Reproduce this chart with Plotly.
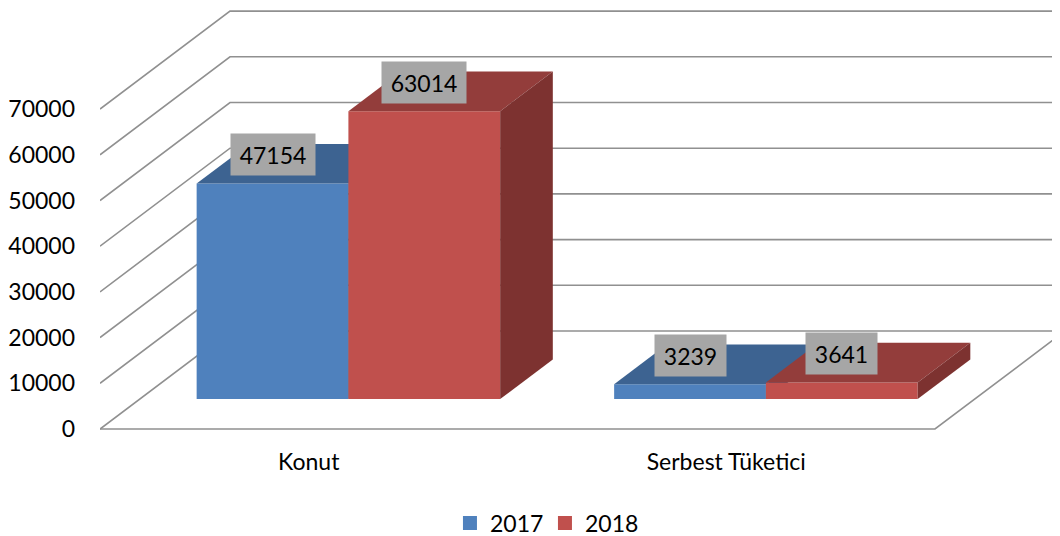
import plotly.graph_objects as go

# ---------------- data ----------------
categories = ["Konut", "Serbest Tüketici"]
series_names = ["2017", "2018"]
values_2017 = [47154, 3239]
values_2018 = [63014, 3641]
y_tick_values = [0, 10000, 20000, 30000, 40000, 50000, 60000, 70000]

# ---------------- style / geometry ----------------
FONT = "Lato, 'Open Sans', 'DejaVu Sans', sans-serif"
FONT_SIZE = 23
front_colors = ["#4F81BD", "#C0504D"]
top_colors = ["#3D6391", "#933D3B"]
side_colors = ["#34547C", "#7D3230"]
GRID_COLOR = "#909090"

# page body has an 8px margin: figure starts at (8, 8) in the window
W, H = 1052, 528
M_L, M_R, M_T, M_B = 92, 0, 0, 96
SLOT_PX = 417.5            # px per category slot
PX_PER_VAL = 0.00457       # px per value unit
FLOOR_PX_Y = 421           # px position of value 0 at the front (from plot top)
DEPTH_X = 130 / SLOT_PX    # full floor depth, x units
DEPTH_Y = 98 / PX_PER_VAL  # full floor depth, value units
F0, F1 = 0.305, 0.71       # bar depth (fraction of floor depth)
BAR_W = 0.3635             # bar width, slot units
LABEL_CHAR_PX = 13         # label box width per character
LABEL_EXTRA_PX = 9

x_range = [-0.5, -0.5 + (W - M_L - M_R) / SLOT_PX]
plot_h = H - M_T - M_B
y_range = [-(plot_h - FLOOR_PX_Y) / PX_PER_VAL, FLOOR_PX_Y / PX_PER_VAL]

fig = go.Figure()

# ---------------- gridlines / floor ----------------
far_x = x_range[1] + 1
for v in y_tick_values:
    fig.add_trace(go.Scatter(
        x=[-0.5, -0.5 + DEPTH_X, far_x],
        y=[v, v + DEPTH_Y, v + DEPTH_Y],
        mode="lines", line=dict(color=GRID_COLOR, width=1.6),
        hoverinfo="skip", showlegend=False))
n_cat = len(categories)
fig.add_trace(go.Scatter(
    x=[-0.5, n_cat - 0.5, n_cat - 0.5 + DEPTH_X],
    y=[0, 0, DEPTH_Y],
    mode="lines", line=dict(color=GRID_COLOR, width=1.6),
    hoverinfo="skip", showlegend=False))

# ---------------- 3D bars ----------------
series_values = [values_2017, values_2018]
annotations = []
base = F0 * DEPTH_Y
shift_x = F0 * DEPTH_X
dx = (F1 - F0) * DEPTH_X
dy = (F1 - F0) * DEPTH_Y
for ci, cat in enumerate(categories):
    for si, vals in enumerate(series_values):
        v = vals[ci]
        x0 = ci - BAR_W + si * BAR_W + shift_x
        x1 = x0 + BAR_W
        b = base
        t = base + v
        faces = [
            ([x0, x1, x1, x0, x0], [b, b, t, t, b], front_colors[si]),
            ([x0, x1, x1 + dx, x0 + dx, x0], [t, t, t + dy, t + dy, t], top_colors[si]),
            ([x1, x1 + dx, x1 + dx, x1, x1], [b, b + dy, t + dy, t, b], side_colors[si]),
        ]
        for fx, fy, col in faces:
            fig.add_trace(go.Scatter(
                x=fx, y=fy, mode="lines", fill="toself", fillcolor=col,
                line=dict(width=0, color=col), hoverinfo="skip", showlegend=False))
        label = str(v)
        annotations.append(dict(
            x=(x0 + x1) / 2, y=t, xref="x", yref="y",
            text=label, showarrow=False, yshift=29,
            font=dict(family=FONT, size=FONT_SIZE, color="#000000"),
            bgcolor="#A6A6A6", borderpad=5,
            width=LABEL_CHAR_PX * len(label) + LABEL_EXTRA_PX, height=31,
            xanchor="center", yanchor="middle"))

# ---------------- legend entries ----------------
for si, name in enumerate(series_names):
    fig.add_trace(go.Scatter(
        x=[None], y=[None], mode="markers", name=name,
        marker=dict(symbol="square", size=14, color=front_colors[si])))

fig.update_layout(
    width=W, height=H,
    margin=dict(l=M_L, r=M_R, t=M_T, b=M_B, autoexpand=False),
    paper_bgcolor="white", plot_bgcolor="white",
    font=dict(family=FONT, size=FONT_SIZE, color="#000000"),
    xaxis=dict(range=x_range, showgrid=False, zeroline=False, showline=False,
               tickmode="array", tickvals=list(range(n_cat)), ticktext=categories,
               ticks="", ticklabelstandoff=6, fixedrange=True, automargin=False),
    yaxis=dict(range=y_range, showgrid=False, zeroline=False, showline=False,
               tickmode="array", tickvals=y_tick_values,
               ticktext=[str(v) for v in y_tick_values],
               ticks="", ticklabelstandoff=24, fixedrange=True, automargin=False),
    legend=dict(orientation="h", x=0.4635, xanchor="center", y=-0.1921,
                yanchor="middle", font=dict(family=FONT, size=FONT_SIZE),
                entrywidth=50, entrywidthmode="pixels",
                bgcolor="rgba(0,0,0,0)"),
    annotations=annotations,
    showlegend=True,
)

fig.write_html("out.html")
